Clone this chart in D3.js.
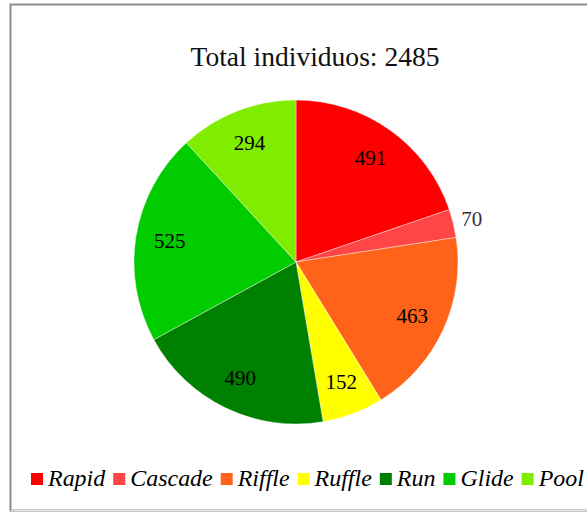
<!DOCTYPE html>
<html>
<head>
<meta charset="utf-8">
<script src="https://cdn.jsdelivr.net/npm/d3@7"></script>
<style>
  html, body { margin: 0; padding: 0; background: #fff; }
  svg { display: block; }
</style>
</head>
<body>
<script>
// Habitat types and individual counts
const categories = ["Rapid", "Cascade", "Riffle", "Ruffle", "Run", "Glide", "Pool"];
const counts = [491, 70, 463, 152, 490, 525, 294];
const colors = ["#ff0000", "#ff4545", "#ff6319", "#ffff00", "#008000", "#00cc00", "#7fec00"];
// Slices whose label sits outside the pie
const outsideLabels = ["Cascade"];

const W = 587, H = 512;
const cx = 296, cy = 262, R = 162;
const serif = "Liberation Serif";

const svg = d3.select("body").append("svg")
  .attr("width", W).attr("height", H);

// Frame
svg.append("rect")
  .attr("x", 10.5).attr("y", 4.5)
  .attr("width", W + 10).attr("height", 506)
  .attr("fill", "#fff").attr("stroke", "#8c8c8c").attr("stroke-width", 2);
svg.append("line")
  .attr("x1", 11).attr("x2", W).attr("y1", 510.5).attr("y2", 510.5)
  .attr("stroke", "#e6e6e6").attr("stroke-width", 1);

const total = d3.sum(counts);
const title = svg.append("text")
  .attr("x", 315).attr("y", 66)
  .attr("text-anchor", "middle")
  .style("font-family", serif)
  .style("font-size", "24px")
  .attr("fill", "#111")
  .text("Total individuos: " + total);
// fit the title to its band width
const tw = title.node().getComputedTextLength();
title.style("font-size", (24 * 249 / tw).toFixed(2) + "px");

const data = categories.map((c, i) => ({ name: c, value: counts[i], color: colors[i] }));
const pie = d3.pie().sort(null).value(d => d.value);
const arcs = pie(data);
const arc = d3.arc().innerRadius(0).outerRadius(R);
const labelArc = d3.arc().innerRadius(128).outerRadius(128);
const outerLabelArc = d3.arc().innerRadius(R + 19).outerRadius(R + 19);

const g = svg.append("g").attr("transform", `translate(${cx},${cy})`);
g.selectAll("path.slice").data(arcs).join("path")
  .attr("class", "slice")
  .attr("d", arc)
  .attr("fill", d => d.data.color)
  .attr("stroke", "#fff").attr("stroke-width", 0.4);

g.selectAll("text.val").data(arcs).join("text")
  .attr("class", "val")
  .attr("transform", d => {
    const a = outsideLabels.includes(d.data.name) ? outerLabelArc : labelArc;
    const [x, y] = a.centroid(d);
    return `translate(${x},${y})`;
  })
  .attr("text-anchor", "middle")
  .attr("dy", "0.35em")
  .style("font-family", serif)
  .style("font-size", "21px")
  .attr("fill", d => outsideLabels.includes(d.data.name) ? "#333" : "#000")
  .text(d => d.data.value);

// Legend: swatch, label, fixed gap; font size fitted to the row width
const sw = 12, pad = 5, gap = 8, x0 = 31, x1 = 584;
const legend = svg.append("g").attr("transform", "translate(0,486)");
const items = data.map(d => {
  const grp = legend.append("g");
  grp.append("rect")
    .attr("x", 0).attr("y", -13)
    .attr("width", sw).attr("height", sw)
    .attr("fill", d.color);
  const t = grp.append("text")
    .attr("x", sw + pad).attr("y", 0)
    .style("font-family", serif)
    .style("font-style", "italic")
    .style("font-size", "22px")
    .attr("fill", "#000")
    .text(d.name);
  return { grp, t };
});
const textW = d3.sum(items, it => it.t.node().getComputedTextLength());
const avail = (x1 - x0) - items.length * (sw + pad) - (items.length - 1) * gap;
const fs = 22 * avail / textW;
items.forEach(it => it.t.style("font-size", fs.toFixed(2) + "px"));
let x = x0;
items.forEach(it => {
  it.grp.attr("transform", `translate(${x},0)`);
  x += sw + pad + it.t.node().getComputedTextLength() + gap;
});
</script>
</body>
</html>
